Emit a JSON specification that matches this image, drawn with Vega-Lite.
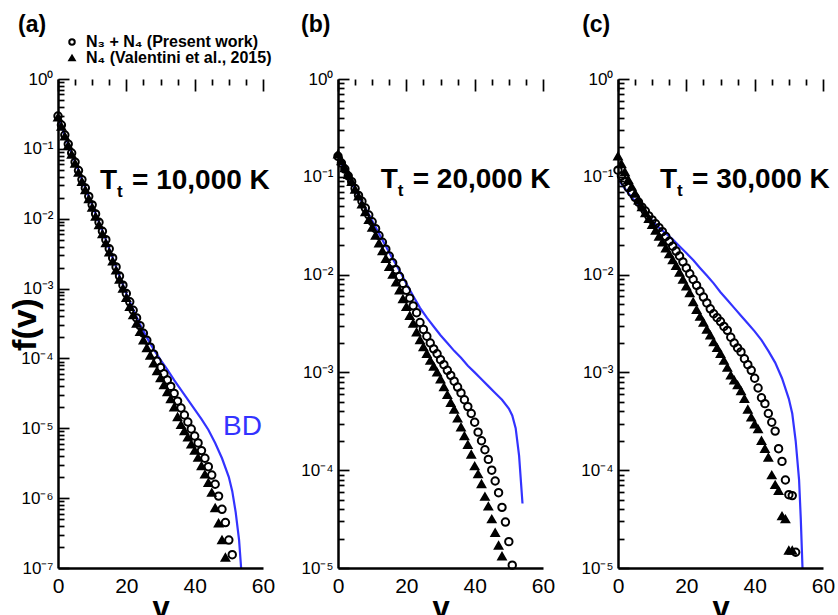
{
"$schema":"https://vega.github.io/schema/vega-lite/v6.json",
"padding":{"left":8,"top":13,"right":5,"bottom":0},
"config":{"view":{"stroke":null},"font":"Liberation Sans"},
"datasets":{
"a":[
{"s":"BD","v":0,"f":0.282},{"s":"BD","v":2,"f":0.155},{"s":"BD","v":4,"f":8.71e-2},{"s":"BD","v":6,"f":4.9e-2},{"s":"BD","v":8,"f":2.75e-2},{"s":"BD","v":10,"f":1.58e-2},{"s":"BD","v":12,"f":8.91e-3},{"s":"BD","v":14,"f":5.01e-3},{"s":"BD","v":16,"f":2.75e-3},{"s":"BD","v":18,"f":1.51e-3},{"s":"BD","v":20,"f":8.51e-4},{"s":"BD","v":22,"f":5.01e-4},{"s":"BD","v":24,"f":3.09e-4},{"s":"BD","v":26,"f":2.0e-4},{"s":"BD","v":28,"f":1.35e-4},{"s":"BD","v":30,"f":9.55e-5},{"s":"BD","v":32,"f":6.92e-5},{"s":"BD","v":34,"f":4.9e-5},{"s":"BD","v":36,"f":3.55e-5},{"s":"BD","v":38,"f":2.57e-5},{"s":"BD","v":40,"f":1.86e-5},{"s":"BD","v":42,"f":1.35e-5},{"s":"BD","v":44,"f":9.55e-6},{"s":"BD","v":46,"f":6.17e-6},{"s":"BD","v":48,"f":3.72e-6},{"s":"BD","v":50,"f":2.0e-6},{"s":"BD","v":51,"f":1.26e-6},{"s":"BD","v":52,"f":6.31e-7},{"s":"BD","v":53,"f":2.51e-7},{"s":"BD","v":53.6,"f":1e-7},
{"s":"V","v":0,"f":0.282},{"s":"V","v":1,"f":0.209},{"s":"V","v":2,"f":0.151},{"s":"V","v":3,"f":0.112},{"s":"V","v":4,"f":8.32e-2},{"s":"V","v":5,"f":6.17e-2},{"s":"V","v":6,"f":4.57e-2},{"s":"V","v":7,"f":3.39e-2},{"s":"V","v":8,"f":2.57e-2},{"s":"V","v":9,"f":1.91e-2},{"s":"V","v":10,"f":1.45e-2},{"s":"V","v":11,"f":1.07e-2},{"s":"V","v":12,"f":8.13e-3},{"s":"V","v":13,"f":6.03e-3},{"s":"V","v":14,"f":4.47e-3},{"s":"V","v":15,"f":3.31e-3},{"s":"V","v":16,"f":2.45e-3},{"s":"V","v":17,"f":1.82e-3},{"s":"V","v":18,"f":1.35e-3},{"s":"V","v":19,"f":1.0e-3},{"s":"V","v":20,"f":7.41e-4},{"s":"V","v":21,"f":5.5e-4},{"s":"V","v":22,"f":4.17e-4},{"s":"V","v":23,"f":3.16e-4},{"s":"V","v":24,"f":2.4e-4},{"s":"V","v":25,"f":1.82e-4},{"s":"V","v":26,"f":1.41e-4},{"s":"V","v":27,"f":1.1e-4},{"s":"V","v":28,"f":8.51e-5},{"s":"V","v":29,"f":6.61e-5},{"s":"V","v":30,"f":5.25e-5},{"s":"V","v":31,"f":4.17e-5},{"s":"V","v":32,"f":3.31e-5},{"s":"V","v":33,"f":2.63e-5},{"s":"V","v":34,"f":2.0e-5},{"s":"V","v":35,"f":1.45e-5},{"s":"V","v":36,"f":1.12e-5},{"s":"V","v":37,"f":9.12e-6},{"s":"V","v":38,"f":7.41e-6},{"s":"V","v":39,"f":5.89e-6},{"s":"V","v":40,"f":4.79e-6},{"s":"V","v":41,"f":3.8e-6},{"s":"V","v":42,"f":2.88e-6},{"s":"V","v":43,"f":2.19e-6},{"s":"V","v":44,"f":1.66e-6},{"s":"V","v":45,"f":1.2e-6},{"s":"V","v":46,"f":7.24e-7},{"s":"V","v":47,"f":4.37e-7},{"s":"V","v":48,"f":2.51e-7},{"s":"V","v":49,"f":1.41e-7},
{"s":"P","v":0,"f":0.295},{"s":"P","v":1,"f":0.219},{"s":"P","v":2,"f":0.158},{"s":"P","v":3,"f":0.117},{"s":"P","v":4,"f":8.71e-2},{"s":"P","v":5,"f":6.46e-2},{"s":"P","v":6,"f":4.9e-2},{"s":"P","v":7,"f":3.63e-2},{"s":"P","v":8,"f":2.75e-2},{"s":"P","v":9,"f":2.09e-2},{"s":"P","v":10,"f":1.58e-2},{"s":"P","v":11,"f":1.17e-2},{"s":"P","v":12,"f":8.91e-3},{"s":"P","v":13,"f":6.61e-3},{"s":"P","v":14,"f":5.01e-3},{"s":"P","v":15,"f":3.72e-3},{"s":"P","v":16,"f":2.75e-3},{"s":"P","v":17,"f":2.04e-3},{"s":"P","v":18,"f":1.51e-3},{"s":"P","v":19,"f":1.12e-3},{"s":"P","v":20,"f":8.51e-4},{"s":"P","v":21,"f":6.46e-4},{"s":"P","v":22,"f":4.9e-4},{"s":"P","v":23,"f":3.8e-4},{"s":"P","v":24,"f":2.95e-4},{"s":"P","v":25,"f":2.29e-4},{"s":"P","v":26,"f":1.82e-4},{"s":"P","v":27,"f":1.45e-4},{"s":"P","v":28,"f":1.15e-4},{"s":"P","v":29,"f":9.12e-5},{"s":"P","v":30,"f":7.41e-5},{"s":"P","v":31,"f":6.03e-5},{"s":"P","v":32,"f":4.9e-5},{"s":"P","v":33,"f":3.98e-5},{"s":"P","v":34,"f":3.16e-5},{"s":"P","v":35,"f":2.45e-5},{"s":"P","v":36,"f":1.95e-5},{"s":"P","v":37,"f":1.55e-5},{"s":"P","v":38,"f":1.23e-5},{"s":"P","v":39,"f":9.77e-6},{"s":"P","v":40,"f":7.76e-6},{"s":"P","v":41,"f":6.17e-6},{"s":"P","v":42,"f":4.79e-6},{"s":"P","v":43,"f":3.72e-6},{"s":"P","v":44,"f":2.82e-6},{"s":"P","v":45,"f":2.14e-6},{"s":"P","v":46,"f":1.58e-6},{"s":"P","v":47,"f":1.07e-6},{"s":"P","v":48,"f":6.92e-7},{"s":"P","v":49,"f":4.47e-7},{"s":"P","v":50,"f":2.51e-7},{"s":"P","v":51,"f":1.55e-7}
],
"b":[
{"s":"BD","v":0,"f":0.158},{"s":"BD","v":2,"f":0.117},{"s":"BD","v":4,"f":8.71e-2},{"s":"BD","v":6,"f":6.46e-2},{"s":"BD","v":8,"f":4.79e-2},{"s":"BD","v":10,"f":3.55e-2},{"s":"BD","v":12,"f":2.63e-2},{"s":"BD","v":14,"f":1.95e-2},{"s":"BD","v":16,"f":1.45e-2},{"s":"BD","v":18,"f":1.1e-2},{"s":"BD","v":20,"f":8.13e-3},{"s":"BD","v":22,"f":6.03e-3},{"s":"BD","v":24,"f":4.57e-3},{"s":"BD","v":26,"f":3.63e-3},{"s":"BD","v":28,"f":2.95e-3},{"s":"BD","v":30,"f":2.4e-3},{"s":"BD","v":32,"f":2.0e-3},{"s":"BD","v":34,"f":1.66e-3},{"s":"BD","v":36,"f":1.41e-3},{"s":"BD","v":38,"f":1.17e-3},{"s":"BD","v":40,"f":1.0e-3},{"s":"BD","v":42,"f":8.51e-4},{"s":"BD","v":44,"f":7.24e-4},{"s":"BD","v":46,"f":6.17e-4},{"s":"BD","v":48,"f":5.25e-4},{"s":"BD","v":50,"f":4.27e-4},{"s":"BD","v":51,"f":3.63e-4},{"s":"BD","v":52,"f":2.69e-4},{"s":"BD","v":53,"f":1.41e-4},{"s":"BD","v":54,"f":4.57e-5},
{"s":"V","v":0,"f":0.17},{"s":"V","v":1,"f":0.145},{"s":"V","v":2,"f":0.123},{"s":"V","v":3,"f":0.105},{"s":"V","v":4,"f":8.91e-2},{"s":"V","v":5,"f":7.41e-2},{"s":"V","v":6,"f":6.31e-2},{"s":"V","v":7,"f":5.25e-2},{"s":"V","v":8,"f":4.37e-2},{"s":"V","v":9,"f":3.63e-2},{"s":"V","v":10,"f":3.02e-2},{"s":"V","v":11,"f":2.51e-2},{"s":"V","v":12,"f":2.09e-2},{"s":"V","v":13,"f":1.74e-2},{"s":"V","v":14,"f":1.45e-2},{"s":"V","v":15,"f":1.2e-2},{"s":"V","v":16,"f":1.0e-2},{"s":"V","v":17,"f":8.32e-3},{"s":"V","v":18,"f":6.92e-3},{"s":"V","v":19,"f":5.62e-3},{"s":"V","v":20,"f":4.68e-3},{"s":"V","v":21,"f":3.8e-3},{"s":"V","v":22,"f":3.16e-3},{"s":"V","v":23,"f":2.57e-3},{"s":"V","v":24,"f":2.14e-3},{"s":"V","v":25,"f":1.82e-3},{"s":"V","v":26,"f":1.55e-3},{"s":"V","v":27,"f":1.32e-3},{"s":"V","v":28,"f":1.15e-3},{"s":"V","v":29,"f":1.0e-3},{"s":"V","v":30,"f":8.51e-4},{"s":"V","v":31,"f":7.08e-4},{"s":"V","v":32,"f":5.89e-4},{"s":"V","v":33,"f":4.9e-4},{"s":"V","v":34,"f":4.17e-4},{"s":"V","v":35,"f":3.39e-4},{"s":"V","v":36,"f":2.75e-4},{"s":"V","v":37,"f":2.24e-4},{"s":"V","v":38,"f":1.82e-4},{"s":"V","v":39,"f":1.45e-4},{"s":"V","v":40,"f":1.1e-4},{"s":"V","v":41,"f":9.12e-5},{"s":"V","v":42,"f":7.24e-5},{"s":"V","v":43,"f":5.37e-5},{"s":"V","v":44,"f":4.27e-5},{"s":"V","v":45,"f":3.16e-5},{"s":"V","v":46,"f":2.29e-5},{"s":"V","v":47,"f":1.7e-5},{"s":"V","v":48,"f":1.32e-5},
{"s":"P","v":0,"f":0.162},{"s":"P","v":1,"f":0.138},{"s":"P","v":2,"f":0.12},{"s":"P","v":3,"f":0.102},{"s":"P","v":4,"f":8.91e-2},{"s":"P","v":5,"f":7.59e-2},{"s":"P","v":6,"f":6.46e-2},{"s":"P","v":7,"f":5.62e-2},{"s":"P","v":8,"f":4.79e-2},{"s":"P","v":9,"f":4.07e-2},{"s":"P","v":10,"f":3.47e-2},{"s":"P","v":11,"f":2.95e-2},{"s":"P","v":12,"f":2.51e-2},{"s":"P","v":13,"f":2.14e-2},{"s":"P","v":14,"f":1.82e-2},{"s":"P","v":15,"f":1.55e-2},{"s":"P","v":16,"f":1.32e-2},{"s":"P","v":17,"f":1.12e-2},{"s":"P","v":18,"f":9.55e-3},{"s":"P","v":19,"f":8.13e-3},{"s":"P","v":20,"f":6.92e-3},{"s":"P","v":21,"f":5.75e-3},{"s":"P","v":22,"f":4.79e-3},{"s":"P","v":23,"f":4.07e-3},{"s":"P","v":24,"f":3.24e-3},{"s":"P","v":25,"f":2.75e-3},{"s":"P","v":26,"f":2.34e-3},{"s":"P","v":27,"f":2.0e-3},{"s":"P","v":28,"f":1.74e-3},{"s":"P","v":29,"f":1.55e-3},{"s":"P","v":30,"f":1.35e-3},{"s":"P","v":31,"f":1.2e-3},{"s":"P","v":32,"f":1.05e-3},{"s":"P","v":33,"f":9.33e-4},{"s":"P","v":34,"f":8.13e-4},{"s":"P","v":35,"f":7.08e-4},{"s":"P","v":36,"f":6.17e-4},{"s":"P","v":37,"f":5.25e-4},{"s":"P","v":38,"f":4.47e-4},{"s":"P","v":39,"f":3.8e-4},{"s":"P","v":40,"f":3.09e-4},{"s":"P","v":41,"f":2.45e-4},{"s":"P","v":42,"f":2.0e-4},{"s":"P","v":43,"f":1.62e-4},{"s":"P","v":44,"f":1.29e-4},{"s":"P","v":45,"f":1.0e-4},{"s":"P","v":46,"f":7.76e-5},{"s":"P","v":47,"f":5.89e-5},{"s":"P","v":48,"f":4.17e-5},{"s":"P","v":49,"f":2.95e-5},{"s":"P","v":50,"f":1.86e-5},{"s":"P","v":51,"f":1.07e-5}
],
"c":[
{"s":"BD","v":0,"f":9.55e-2},{"s":"BD","v":2,"f":7.59e-2},{"s":"BD","v":4,"f":6.17e-2},{"s":"BD","v":6,"f":5.13e-2},{"s":"BD","v":8,"f":4.27e-2},{"s":"BD","v":10,"f":3.55e-2},{"s":"BD","v":12,"f":3.02e-2},{"s":"BD","v":14,"f":2.63e-2},{"s":"BD","v":16,"f":2.29e-2},{"s":"BD","v":18,"f":1.95e-2},{"s":"BD","v":20,"f":1.66e-2},{"s":"BD","v":22,"f":1.41e-2},{"s":"BD","v":24,"f":1.17e-2},{"s":"BD","v":26,"f":9.77e-3},{"s":"BD","v":28,"f":8.13e-3},{"s":"BD","v":30,"f":6.61e-3},{"s":"BD","v":32,"f":5.5e-3},{"s":"BD","v":34,"f":4.57e-3},{"s":"BD","v":36,"f":3.8e-3},{"s":"BD","v":38,"f":3.16e-3},{"s":"BD","v":40,"f":2.63e-3},{"s":"BD","v":42,"f":2.14e-3},{"s":"BD","v":44,"f":1.66e-3},{"s":"BD","v":46,"f":1.26e-3},{"s":"BD","v":48,"f":8.71e-4},{"s":"BD","v":50,"f":5.37e-4},{"s":"BD","v":51,"f":3.8e-4},{"s":"BD","v":52,"f":2.0e-4},{"s":"BD","v":53,"f":7.94e-5},{"s":"BD","v":53.5,"f":3.16e-5},{"s":"BD","v":54,"f":1.0e-5},
{"s":"V","v":0,"f":0.162},{"s":"V","v":1,"f":0.135},{"s":"V","v":2,"f":0.112},{"s":"V","v":3,"f":9.33e-2},{"s":"V","v":4,"f":7.94e-2},{"s":"V","v":5,"f":6.76e-2},{"s":"V","v":6,"f":5.75e-2},{"s":"V","v":7,"f":4.9e-2},{"s":"V","v":8,"f":4.27e-2},{"s":"V","v":9,"f":3.72e-2},{"s":"V","v":10,"f":3.24e-2},{"s":"V","v":11,"f":2.82e-2},{"s":"V","v":12,"f":2.45e-2},{"s":"V","v":13,"f":2.14e-2},{"s":"V","v":14,"f":1.86e-2},{"s":"V","v":15,"f":1.62e-2},{"s":"V","v":16,"f":1.41e-2},{"s":"V","v":17,"f":1.23e-2},{"s":"V","v":18,"f":1.05e-2},{"s":"V","v":19,"f":8.91e-3},{"s":"V","v":20,"f":7.59e-3},{"s":"V","v":21,"f":6.46e-3},{"s":"V","v":22,"f":5.25e-3},{"s":"V","v":23,"f":4.37e-3},{"s":"V","v":24,"f":3.72e-3},{"s":"V","v":25,"f":3.24e-3},{"s":"V","v":26,"f":2.75e-3},{"s":"V","v":27,"f":2.4e-3},{"s":"V","v":28,"f":2.04e-3},{"s":"V","v":29,"f":1.78e-3},{"s":"V","v":30,"f":1.55e-3},{"s":"V","v":31,"f":1.32e-3},{"s":"V","v":32,"f":1.12e-3},{"s":"V","v":33,"f":9.33e-4},{"s":"V","v":34,"f":8.32e-4},{"s":"V","v":35,"f":7.41e-4},{"s":"V","v":36,"f":6.46e-4},{"s":"V","v":37,"f":5.37e-4},{"s":"V","v":38,"f":4.17e-4},{"s":"V","v":39,"f":3.47e-4},{"s":"V","v":40,"f":2.95e-4},{"s":"V","v":41,"f":2.63e-4},{"s":"V","v":42,"f":2.0e-4},{"s":"V","v":43,"f":1.66e-4},{"s":"V","v":44,"f":1.35e-4},{"s":"V","v":45,"f":8.91e-5},{"s":"V","v":46,"f":7.08e-5},{"s":"V","v":47,"f":6.17e-5},{"s":"V","v":48,"f":3.39e-5},{"s":"V","v":49,"f":3.16e-5},{"s":"V","v":50,"f":1.51e-5},{"s":"V","v":51,"f":1.51e-5},
{"s":"P","v":0,"f":0.117},{"s":"P","v":1,"f":0.102},{"s":"P","v":2,"f":8.91e-2},{"s":"P","v":3,"f":7.76e-2},{"s":"P","v":4,"f":6.92e-2},{"s":"P","v":5,"f":6.17e-2},{"s":"P","v":6,"f":5.5e-2},{"s":"P","v":7,"f":4.9e-2},{"s":"P","v":8,"f":4.47e-2},{"s":"P","v":9,"f":3.98e-2},{"s":"P","v":10,"f":3.63e-2},{"s":"P","v":11,"f":3.31e-2},{"s":"P","v":12,"f":3.02e-2},{"s":"P","v":13,"f":2.75e-2},{"s":"P","v":14,"f":2.45e-2},{"s":"P","v":15,"f":2.19e-2},{"s":"P","v":16,"f":1.95e-2},{"s":"P","v":17,"f":1.74e-2},{"s":"P","v":18,"f":1.55e-2},{"s":"P","v":19,"f":1.35e-2},{"s":"P","v":20,"f":1.17e-2},{"s":"P","v":21,"f":1.02e-2},{"s":"P","v":22,"f":8.91e-3},{"s":"P","v":23,"f":7.76e-3},{"s":"P","v":24,"f":6.76e-3},{"s":"P","v":25,"f":5.89e-3},{"s":"P","v":26,"f":5.13e-3},{"s":"P","v":27,"f":4.47e-3},{"s":"P","v":28,"f":3.98e-3},{"s":"P","v":29,"f":3.63e-3},{"s":"P","v":30,"f":3.31e-3},{"s":"P","v":31,"f":2.95e-3},{"s":"P","v":32,"f":2.69e-3},{"s":"P","v":33,"f":2.29e-3},{"s":"P","v":34,"f":2.0e-3},{"s":"P","v":35,"f":1.78e-3},{"s":"P","v":36,"f":1.62e-3},{"s":"P","v":37,"f":1.38e-3},{"s":"P","v":38,"f":1.2e-3},{"s":"P","v":39,"f":1.05e-3},{"s":"P","v":40,"f":8.71e-4},{"s":"P","v":41,"f":6.92e-4},{"s":"P","v":42,"f":5.5e-4},{"s":"P","v":43,"f":4.79e-4},{"s":"P","v":44,"f":3.8e-4},{"s":"P","v":45,"f":3.09e-4},{"s":"P","v":46,"f":2.51e-4},{"s":"P","v":47,"f":1.66e-4},{"s":"P","v":48,"f":1.23e-4},{"s":"P","v":49,"f":7.94e-5},{"s":"P","v":50,"f":5.62e-5},{"s":"P","v":51,"f":5.5e-5},{"s":"P","v":52,"f":1.45e-5}
]
},
"spacing":25,
"resolve":{"scale":{"x":"independent","y":"independent","shape":"independent","fill":"independent","stroke":"independent"}},
"hconcat":[
{
"data":{"name":"a"},"width":205,"height":489,
"resolve":{"axis":{"x":"independent","y":"independent"}},
"layer":[
{"transform":[{"filter":"datum.s=='BD'"}],"mark":{"type":"line","color":"#3333ff","strokeWidth":2.2,"clip":true},
"encoding":{
"x":{"field":"v","type":"quantitative","scale":{"domain":[0,60],"nice":false,"zero":false},
"axis":{"orient":"bottom","zindex":1,"values":[0,5,10,15,20,25,30,35,40,45,50,55,60],"labelExpr":"datum.value % 20 == 0 ? datum.label : ''","ticks":false,"tickSize":0,"grid":true,"gridColor":"black","gridOpacity":1,"gridWidth":1.7,"gridDash":{"condition":{"test":"datum.value % 20 == 0","value":[12,2000]},"value":[6,2000]},"domainColor":"black","domainWidth":2.5,"labelFontSize":21,"labelColor":"black","labelPadding":7,"labelFlush":false,"labelOverlap":false,"title":"v","titleFontSize":31,"titleFontWeight":"bold","titleColor":"black","titlePadding":-3}},
"y":{"field":"f","type":"quantitative","scale":{"type":"log","domain":[1e-7,1],"nice":false},
"axis":{"orient":"left","zindex":1,"values":[1e-7,2e-7,3e-7,4e-7,5e-7,6e-7,7e-7,8e-7,9e-7,1e-6,2e-6,3e-6,4e-6,5e-6,6e-6,7e-6,8e-6,9e-6,1e-5,2e-5,3e-5,4e-5,5e-5,6e-5,7e-5,8e-5,9e-5,1e-4,2e-4,3e-4,4e-4,5e-4,6e-4,7e-4,8e-4,9e-4,1e-3,2e-3,3e-3,4e-3,5e-3,6e-3,7e-3,8e-3,9e-3,1e-2,2e-2,3e-2,4e-2,5e-2,6e-2,7e-2,8e-2,9e-2,0.1,0.2,0.3,0.4,0.5,0.6,0.7,0.8,0.9,1],
"labelExpr":"abs(log(datum.value)/LN10 - round(log(datum.value)/LN10)) < 0.01 ? '10' + ['⁰','⁻¹','⁻²','⁻³','⁻⁴','⁻⁵','⁻⁶','⁻⁷'][-round(log(datum.value)/LN10)] : ''",
"ticks":false,"tickSize":0,"grid":true,"gridColor":"black","gridOpacity":1,"gridWidth":1.7,"gridDash":{"condition":{"test":"abs(log(datum.value)/LN10 - round(log(datum.value)/LN10)) < 0.01","value":[11,2000]},"value":[6,2000]},"domainColor":"black","domainWidth":2.5,"labelFontSize":17,"labelColor":"black","labelPadding":5,"labelFlush":false,"labelOverlap":false,
"title":"f(v)","titleFontSize":34,"titleFontWeight":"bold","titleColor":"black","titleX":-33,"titleY":245,"titleAngle":270,"titleBaseline":"middle","titleAlign":"center"}}
}},
{"transform":[{"filter":"datum.s!='BD'"}],"mark":{"type":"point","strokeWidth":2,"size":55,"opacity":1},
"encoding":{
"x":{"field":"v","type":"quantitative","axis":null},
"y":{"field":"f","type":"quantitative","axis":null},
"shape":{"field":"s","type":"nominal","scale":{"domain":["P","V"],"range":["circle","triangle-up"]},
"legend":{"orient":"none","legendX":6,"legendY":-45,"title":null,"labelExpr":"datum.label == 'P' ? 'N₃ + N₄ (Present work)' : 'N₄ (Valentini et al., 2015)'","labelFontSize":16,"labelFontWeight":"bold","labelColor":"black","labelLimit":0,"symbolSize":30,"symbolStrokeWidth":2,"rowPadding":0,"padding":0,"labelOffset":6}},
"fill":{"field":"s","type":"nominal","scale":{"domain":["P","V"],"range":["transparent","black"]},
"legend":{"orient":"none","legendX":6,"legendY":-45,"title":null,"labelExpr":"datum.label == 'P' ? 'N₃ + N₄ (Present work)' : 'N₄ (Valentini et al., 2015)'","labelFontSize":16,"labelFontWeight":"bold","labelColor":"black","labelLimit":0,"symbolSize":30,"symbolStrokeWidth":2,"rowPadding":0,"padding":0,"labelOffset":6}},
"stroke":{"field":"s","type":"nominal","scale":{"domain":["P","V"],"range":["black","black"]},
"legend":{"orient":"none","legendX":6,"legendY":-45,"title":null,"labelExpr":"datum.label == 'P' ? 'N₃ + N₄ (Present work)' : 'N₄ (Valentini et al., 2015)'","labelFontSize":16,"labelFontWeight":"bold","labelColor":"black","labelLimit":0,"symbolSize":30,"symbolStrokeWidth":2,"rowPadding":0,"padding":0,"labelOffset":6}}}},
{"data":{"values":[{}]},"mark":{"type":"text","text":"(a)","fontSize":23,"fontWeight":"bold","align":"left","baseline":"alphabetic","color":"black"},"encoding":{"x":{"datum":-11.7,"type":"quantitative","axis":null},"y":{"datum":4.71,"type":"quantitative","axis":null}}},
{"data":{"values":[{}]},"mark":{"type":"text","text":"T","fontSize":28,"fontWeight":"bold","align":"left","baseline":"alphabetic","color":"black"},"encoding":{"x":{"datum":12.3,"type":"quantitative","axis":null},"y":{"datum":0.0266,"type":"quantitative","axis":null}}},
{"data":{"values":[{}]},"mark":{"type":"text","text":"t","fontSize":17,"fontWeight":"bold","align":"left","baseline":"alphabetic","color":"black","dx":17,"dy":8},"encoding":{"x":{"datum":12.3,"type":"quantitative","axis":null},"y":{"datum":0.0266,"type":"quantitative","axis":null}}},
{"data":{"values":[{}]},"mark":{"type":"text","text":"= 10,000 K","fontSize":28,"fontWeight":"bold","align":"left","baseline":"alphabetic","color":"black","dx":32},"encoding":{"x":{"datum":12.3,"type":"quantitative","axis":null},"y":{"datum":0.0266,"type":"quantitative","axis":null}}},
{"data":{"values":[{}]},"mark":{"type":"text","text":"BD","fontSize":28,"align":"left","baseline":"alphabetic","color":"#3333ff"},"encoding":{"x":{"datum":48.3,"type":"quantitative","axis":null},"y":{"datum":8.1e-6,"type":"quantitative","axis":null}}}
]
},
{
"data":{"name":"b"},"width":205,"height":489,
"resolve":{"axis":{"x":"independent","y":"independent"}},
"layer":[
{"transform":[{"filter":"datum.s=='BD'"}],"mark":{"type":"line","color":"#3333ff","strokeWidth":2.2,"clip":true},
"encoding":{
"x":{"field":"v","type":"quantitative","scale":{"domain":[0,60],"nice":false,"zero":false},
"axis":{"orient":"bottom","zindex":1,"values":[0,5,10,15,20,25,30,35,40,45,50,55,60],"labelExpr":"datum.value % 20 == 0 ? datum.label : ''","ticks":false,"tickSize":0,"grid":true,"gridColor":"black","gridOpacity":1,"gridWidth":1.7,"gridDash":{"condition":{"test":"datum.value % 20 == 0","value":[12,2000]},"value":[6,2000]},"domainColor":"black","domainWidth":2.5,"labelFontSize":21,"labelColor":"black","labelPadding":7,"labelFlush":false,"labelOverlap":false,"title":"v","titleFontSize":31,"titleFontWeight":"bold","titleColor":"black","titlePadding":-3}},
"y":{"field":"f","type":"quantitative","scale":{"type":"log","domain":[1e-5,1],"nice":false},
"axis":{"orient":"left","zindex":1,"values":[1e-5,2e-5,3e-5,4e-5,5e-5,6e-5,7e-5,8e-5,9e-5,1e-4,2e-4,3e-4,4e-4,5e-4,6e-4,7e-4,8e-4,9e-4,1e-3,2e-3,3e-3,4e-3,5e-3,6e-3,7e-3,8e-3,9e-3,1e-2,2e-2,3e-2,4e-2,5e-2,6e-2,7e-2,8e-2,9e-2,0.1,0.2,0.3,0.4,0.5,0.6,0.7,0.8,0.9,1],
"labelExpr":"abs(log(datum.value)/LN10 - round(log(datum.value)/LN10)) < 0.01 ? '10' + ['⁰','⁻¹','⁻²','⁻³','⁻⁴','⁻⁵','⁻⁶','⁻⁷'][-round(log(datum.value)/LN10)] : ''",
"ticks":false,"tickSize":0,"grid":true,"gridColor":"black","gridOpacity":1,"gridWidth":1.7,"gridDash":{"condition":{"test":"abs(log(datum.value)/LN10 - round(log(datum.value)/LN10)) < 0.01","value":[11,2000]},"value":[6,2000]},"domainColor":"black","domainWidth":2.5,"labelFontSize":17,"labelColor":"black","labelPadding":5,"labelFlush":false,"labelOverlap":false,"title":null}}
}},
{"transform":[{"filter":"datum.s!='BD'"}],"mark":{"type":"point","stroke":"black","strokeWidth":2,"size":55,"opacity":1},
"encoding":{
"x":{"field":"v","type":"quantitative","axis":null},
"y":{"field":"f","type":"quantitative","axis":null},
"shape":{"field":"s","type":"nominal","scale":{"domain":["P","V"],"range":["circle","triangle-up"]},"legend":null},
"fill":{"field":"s","type":"nominal","scale":{"domain":["P","V"],"range":["transparent","black"]},"legend":null}}},
{"data":{"values":[{}]},"mark":{"type":"text","text":"(b)","fontSize":23,"fontWeight":"bold","align":"left","baseline":"alphabetic","color":"black"},"encoding":{"x":{"datum":-10.8,"type":"quantitative","axis":null},"y":{"datum":3.02,"type":"quantitative","axis":null}}},
{"data":{"values":[{}]},"mark":{"type":"text","text":"T","fontSize":28,"fontWeight":"bold","align":"left","baseline":"alphabetic","color":"black"},"encoding":{"x":{"datum":12.5,"type":"quantitative","axis":null},"y":{"datum":0.0768,"type":"quantitative","axis":null}}},
{"data":{"values":[{}]},"mark":{"type":"text","text":"t","fontSize":17,"fontWeight":"bold","align":"left","baseline":"alphabetic","color":"black","dx":17,"dy":8},"encoding":{"x":{"datum":12.5,"type":"quantitative","axis":null},"y":{"datum":0.0768,"type":"quantitative","axis":null}}},
{"data":{"values":[{}]},"mark":{"type":"text","text":"= 20,000 K","fontSize":28,"fontWeight":"bold","align":"left","baseline":"alphabetic","color":"black","dx":32},"encoding":{"x":{"datum":12.5,"type":"quantitative","axis":null},"y":{"datum":0.0768,"type":"quantitative","axis":null}}}
]
},
{
"data":{"name":"c"},"width":205,"height":489,
"resolve":{"axis":{"x":"independent","y":"independent"}},
"layer":[
{"transform":[{"filter":"datum.s=='BD'"}],"mark":{"type":"line","color":"#3333ff","strokeWidth":2.2,"clip":true},
"encoding":{
"x":{"field":"v","type":"quantitative","scale":{"domain":[0,60],"nice":false,"zero":false},
"axis":{"orient":"bottom","zindex":1,"values":[0,5,10,15,20,25,30,35,40,45,50,55,60],"labelExpr":"datum.value % 20 == 0 ? datum.label : ''","ticks":false,"tickSize":0,"grid":true,"gridColor":"black","gridOpacity":1,"gridWidth":1.7,"gridDash":{"condition":{"test":"datum.value % 20 == 0","value":[12,2000]},"value":[6,2000]},"domainColor":"black","domainWidth":2.5,"labelFontSize":21,"labelColor":"black","labelPadding":7,"labelFlush":false,"labelOverlap":false,"title":"v","titleFontSize":31,"titleFontWeight":"bold","titleColor":"black","titlePadding":-3}},
"y":{"field":"f","type":"quantitative","scale":{"type":"log","domain":[1e-5,1],"nice":false},
"axis":{"orient":"left","zindex":1,"values":[1e-5,2e-5,3e-5,4e-5,5e-5,6e-5,7e-5,8e-5,9e-5,1e-4,2e-4,3e-4,4e-4,5e-4,6e-4,7e-4,8e-4,9e-4,1e-3,2e-3,3e-3,4e-3,5e-3,6e-3,7e-3,8e-3,9e-3,1e-2,2e-2,3e-2,4e-2,5e-2,6e-2,7e-2,8e-2,9e-2,0.1,0.2,0.3,0.4,0.5,0.6,0.7,0.8,0.9,1],
"labelExpr":"abs(log(datum.value)/LN10 - round(log(datum.value)/LN10)) < 0.01 ? '10' + ['⁰','⁻¹','⁻²','⁻³','⁻⁴','⁻⁵','⁻⁶','⁻⁷'][-round(log(datum.value)/LN10)] : ''",
"ticks":false,"tickSize":0,"grid":true,"gridColor":"black","gridOpacity":1,"gridWidth":1.7,"gridDash":{"condition":{"test":"abs(log(datum.value)/LN10 - round(log(datum.value)/LN10)) < 0.01","value":[11,2000]},"value":[6,2000]},"domainColor":"black","domainWidth":2.5,"labelFontSize":17,"labelColor":"black","labelPadding":5,"labelFlush":false,"labelOverlap":false,"title":null}}
}},
{"transform":[{"filter":"datum.s!='BD'"}],"mark":{"type":"point","stroke":"black","strokeWidth":2,"size":55,"opacity":1},
"encoding":{
"x":{"field":"v","type":"quantitative","axis":null},
"y":{"field":"f","type":"quantitative","axis":null},
"shape":{"field":"s","type":"nominal","scale":{"domain":["P","V"],"range":["circle","triangle-up"]},"legend":null},
"fill":{"field":"s","type":"nominal","scale":{"domain":["P","V"],"range":["transparent","black"]},"legend":null}}},
{"data":{"values":[{}]},"mark":{"type":"text","text":"(c)","fontSize":23,"fontWeight":"bold","align":"left","baseline":"alphabetic","color":"black"},"encoding":{"x":{"datum":-10.5,"type":"quantitative","axis":null},"y":{"datum":3.02,"type":"quantitative","axis":null}}},
{"data":{"values":[{}]},"mark":{"type":"text","text":"T","fontSize":28,"fontWeight":"bold","align":"left","baseline":"alphabetic","color":"black"},"encoding":{"x":{"datum":12.3,"type":"quantitative","axis":null},"y":{"datum":0.0768,"type":"quantitative","axis":null}}},
{"data":{"values":[{}]},"mark":{"type":"text","text":"t","fontSize":17,"fontWeight":"bold","align":"left","baseline":"alphabetic","color":"black","dx":17,"dy":8},"encoding":{"x":{"datum":12.3,"type":"quantitative","axis":null},"y":{"datum":0.0768,"type":"quantitative","axis":null}}},
{"data":{"values":[{}]},"mark":{"type":"text","text":"= 30,000 K","fontSize":28,"fontWeight":"bold","align":"left","baseline":"alphabetic","color":"black","dx":32},"encoding":{"x":{"datum":12.3,"type":"quantitative","axis":null},"y":{"datum":0.0768,"type":"quantitative","axis":null}}}
]
}
]
}
